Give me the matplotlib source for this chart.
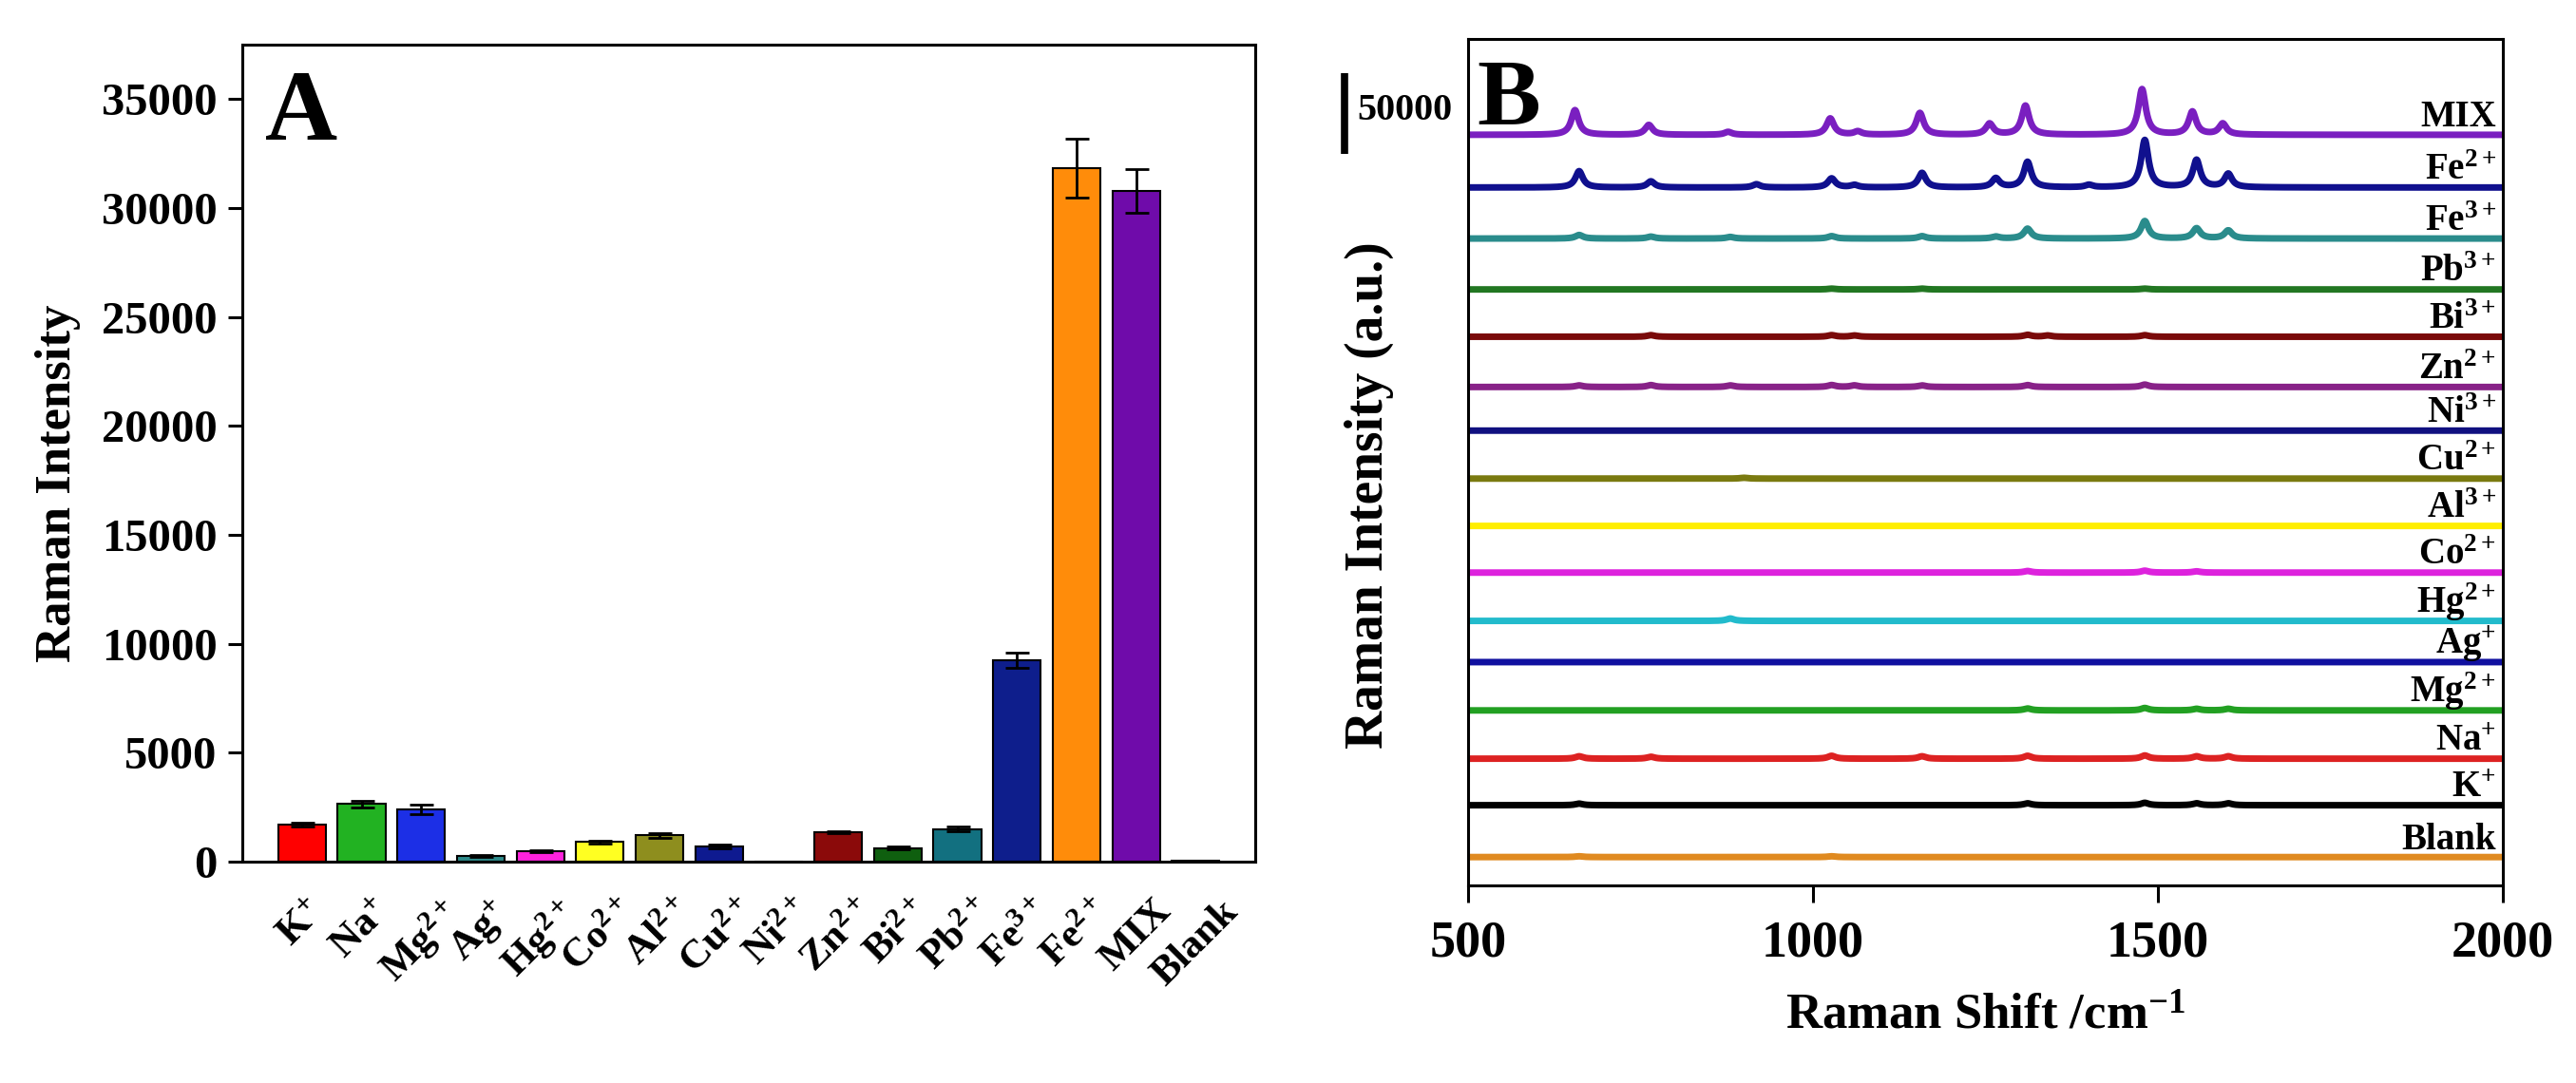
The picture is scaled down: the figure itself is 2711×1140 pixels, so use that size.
import numpy as np
import matplotlib
matplotlib.use("Agg")
import matplotlib.pyplot as plt
import matplotlib.transforms as mtransforms

plt.rcParams['font.family'] = ['Liberation Serif', 'DejaVu Serif']
plt.rcParams['font.weight'] = 'bold'
plt.rcParams['mathtext.fontset'] = 'custom'
plt.rcParams['mathtext.rm'] = 'Liberation Serif:bold'
plt.rcParams['mathtext.bf'] = 'Liberation Serif:bold'
plt.rcParams['mathtext.it'] = 'Liberation Serif:bold:italic'
plt.rcParams['mathtext.default'] = 'rm'

# ---- panel A : bar chart ----
ions = ["K$^{+}$", "Na$^{+}$", "Mg$^{2+}$", "Ag$^{+}$", "Hg$^{2+}$", "Co$^{2+}$",
        "Al$^{2+}$", "Cu$^{2+}$", "Ni$^{2+}$", "Zn$^{2+}$", "Bi$^{2+}$", "Pb$^{2+}$",
        "Fe$^{3+}$", "Fe$^{2+}$", "MIX", "Blank"]
intensity = [1700, 2650, 2400, 250, 480, 900, 1200, 700, 0, 1350, 620, 1500,
             9250, 31850, 30800, 30]
errors = [100, 150, 200, 50, 60, 80, 100, 80, 0, 60, 60, 120,
          350, 1350, 1000, 20]
bar_colors = ["#ff0000", "#22b222", "#1c2fe6", "#2e8b8b", "#ff22dd", "#ffff22",
              "#8e8e1e", "#0e1a90", "#888888", "#8b0a0a", "#0f5f0f", "#127080",
              "#0e1e8c", "#ff8c0a", "#6f0baa", "#888888"]

# ---- panel B : spectra (peak position, height), stacked with offsets ----
traces = ["MIX", "Fe$^{2+}$", "Fe$^{3+}$", "Pb$^{3+}$", "Bi$^{3+}$", "Zn$^{2+}$",
          "Ni$^{3+}$", "Cu$^{2+}$", "Al$^{3+}$", "Co$^{2+}$", "Hg$^{2+}$",
          "Ag$^{+}$", "Mg$^{2+}$", "Na$^{+}$", "K$^{+}$", "Blank"]
offsets = [464600, 432000, 400400, 368900, 339600, 308500, 281500, 251800,
           222500, 193600, 163700, 138200, 108300, 78400, 49600, 17500]
trace_colors = ["#7a1fc0", "#10108e", "#2a8c8c", "#227722", "#7a0a0a", "#882288",
                "#101080", "#7a7a10", "#ffee00", "#dd22dd", "#22bbcc",
                "#1010a0", "#22a022", "#dd2222", "#000000", "#e08a20"]
peaks = [
    [(655, 15300), (762, 6100), (877, 1800), (1025, 10100), (1065, 2000), (1155, 13500),
     (1256, 6800), (1308, 18000), (1477, 28200), (1550, 14200), (1594, 6800)],
    [(661, 10100), (765, 3800), (918, 2000), (1027, 5600), (1060, 1500), (1158, 9000),
     (1265, 5600), (1311, 15800), (1400, 1500), (1481, 29300), (1556, 16900), (1602, 8300)],
    [(661, 2200), (765, 1200), (880, 1000), (1027, 1500), (1158, 1500), (1265, 1200),
     (1311, 6100), (1481, 10800), (1556, 6300), (1602, 5000)],
    [(1027, 500), (1158, 500), (1481, 500)],
    [(765, 1000), (1027, 1000), (1060, 800), (1311, 1200), (1340, 800), (1481, 1000)],
    [(661, 1000), (765, 1200), (880, 1000), (1027, 1200), (1060, 1000), (1158, 1000),
     (1311, 1200), (1481, 1500)],
    [],
    [(900, 500)],
    [],
    [(1311, 1000), (1481, 1200), (1556, 800)],
    [(880, 1500)],
    [],
    [(1311, 1200), (1481, 1500), (1556, 1000), (1602, 1000)],
    [(661, 1500), (765, 1200), (1027, 1800), (1158, 1500), (1311, 1800), (1481, 2000),
     (1556, 1500), (1602, 1500)],
    [(661, 1000), (1311, 1200), (1481, 1500), (1556, 1200), (1602, 1200)],
    [(661, 500), (1027, 500)],
]

fig = plt.figure(figsize=(27.11, 11.40), dpi=100)

# ================= A =================
axA = fig.add_axes([0.0941, 0.2044, 0.3932, 0.7544])
x = np.arange(len(ions))
axA.bar(x, intensity, width=0.8, color=bar_colors, edgecolor="black", linewidth=1.5,
        yerr=errors, error_kw=dict(ecolor="black", elinewidth=2, capsize=9, capthick=2))
axA.set_xlim(-1, 16)
axA.set_ylim(0, 37500)
axA.set_yticks(range(0, 35001, 5000))
axA.set_xticks(x)
axA.set_xticklabels(ions, rotation=45, ha="center", va="top", fontsize=31)
axA.tick_params(axis="x", length=0, pad=24)
axA.tick_params(axis="y", direction="out", length=11, width=2.2, pad=8, labelsize=35)
for s in axA.spines.values():
    s.set_linewidth(2.2)
axA.set_ylabel("Raman Intensity", fontsize=38, fontweight="bold")
axA.yaxis.set_label_coords(-0.16, 0.463)
axA.text(0.022, 0.884, "A", transform=axA.transAxes, fontsize=76, fontweight="bold",
         ha="left", va="baseline")

# ================= B =================
axB = fig.add_axes([0.5699, 0.1825, 0.4017, 0.7816])
shift = np.linspace(500, 2000, 3001)
hw = 6.5
for name, off, col, pk in zip(traces, offsets, trace_colors, peaks):
    y = np.full_like(shift, off, dtype=float)
    for pos, h in pk:
        y += h * hw**2 / ((shift - pos)**2 + hw**2)
    axB.plot(shift, y, color=col, linewidth=5, solid_capstyle="butt")
    axB.text(1990, off + 5000, name, color="black", fontsize=28, fontweight="bold",
             ha="right", va="baseline")
axB.set_xlim(500, 2000)
axB.set_ylim(0, 524000)
axB.set_xticks([500, 1000, 1500, 2000])
axB.set_yticks([])
axB.tick_params(axis="x", direction="out", length=13, width=2.2, pad=13, labelsize=39)
for s in axB.spines.values():
    s.set_linewidth(2.2)
axB.set_xlabel("Raman Shift /cm$^{-1}$", fontsize=38, fontweight="bold")
axB.xaxis.set_label_coords(0.5, -0.128)
axB.set_ylabel("Raman Intensity (a.u.)", fontsize=40, fontweight="bold")
axB.yaxis.set_label_coords(-0.072, 0.461)
axB.text(0.009, 0.900, "B", transform=axB.transAxes, fontsize=72, fontweight="bold",
         ha="left", va="baseline")

# scale bar: 50000 counts
trans = mtransforms.blended_transform_factory(axB.transAxes, axB.transData)
axB.plot([-0.1194, -0.1194], [452700, 502700], color="black", linewidth=5.5,
         transform=trans, clip_on=False, solid_capstyle="butt")
axB.text(-0.1074, 479800, "50000", transform=trans, fontsize=29, fontweight="bold",
         ha="left", va="center")

fig.savefig("out.png", dpi=100)
